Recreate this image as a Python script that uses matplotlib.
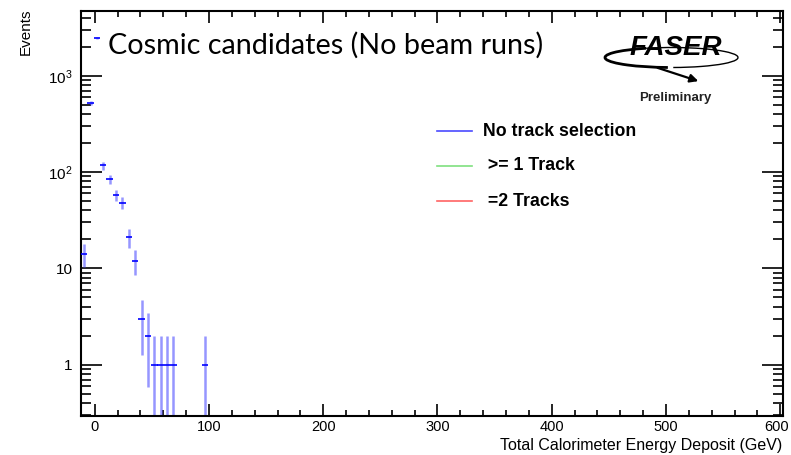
import numpy as np
import matplotlib
matplotlib.use("Agg")
import matplotlib.pyplot as plt
from matplotlib.ticker import MultipleLocator, LogLocator, FuncFormatter, NullFormatter
from matplotlib.patches import Arc

# histogram content (bin centres in GeV, entries per bin)
bin_centers = [-9.2, -3.6, 1.95, 7.5, 13.1, 18.7, 24.3, 29.8, 35.4, 41.0,
               46.6, 52.2, 57.7, 63.3, 68.9, 96.8]
counts = [14, 520, 2450, 117, 85, 58, 48, 21, 12, 3, 2, 1, 1, 1, 1, 1]
bin_width = 5.58

x_tick_values = [0, 100, 200, 300, 400, 500, 600]

legend_labels = ["No track selection", " >= 1 Track", " =2 Tracks"]
legend_colors = ["#4a4aff", "#7fe07f", "#ff6464"]

LABEL_FONT = ["Liberation Sans Narrow", "Liberation Sans"]

plt.rcParams["mathtext.fontset"] = "custom"
plt.rcParams["mathtext.rm"] = "Liberation Sans"
plt.rcParams["mathtext.it"] = "Liberation Sans"

fig = plt.figure(figsize=(7.91, 4.55), dpi=100)
ax = fig.add_axes([0.1024, 0.0868, 0.8869, 0.889])

x = np.array(bin_centers)
n = np.array(counts, dtype=float)
err = np.sqrt(n)
lo = np.maximum(n - err, 1e-3)
hi = n + err

# ROOT-style error bars: vertical sqrt(N), horizontal bin width
ax.vlines(x, lo, hi, color="#5050ff", alpha=0.6, lw=1.8, zorder=2)
ax.hlines(n, x - bin_width / 2, x + bin_width / 2, color="#0000ff", lw=1.2, zorder=3)

ax.set_yscale("log")
ax.set_xlim(-12, 602)
ax.set_ylim(0.296, 4700)

ax.set_xticks(x_tick_values)
ax.xaxis.set_minor_locator(MultipleLocator(20))
ax.yaxis.set_major_locator(LogLocator(base=10))
ax.yaxis.set_minor_locator(LogLocator(base=10, subs=np.arange(2, 10)))
ax.yaxis.set_minor_formatter(NullFormatter())


def log_fmt(v, pos):
    e = int(round(np.log10(v)))
    if e <= 1:
        return str(int(round(v)))
    return r"$10^{\mathregular{%d}}$" % e


ax.yaxis.set_major_formatter(FuncFormatter(log_fmt))

ax.tick_params(axis="both", which="both", direction="in", top=True, right=True,
               colors="black", width=1.2)
ax.tick_params(axis="x", which="major", length=8.5, labelbottom=False)
ax.tick_params(axis="x", which="minor", length=4.5)
ax.tick_params(axis="y", which="major", length=15, pad=6, labelsize=11)
ax.tick_params(axis="y", which="minor", length=7.5)
for lab in ax.get_yticklabels():
    lab.set_family(LABEL_FONT)

# x tick labels placed by hand so that "600" stays inside the canvas
for v in x_tick_values:
    dx = -3 if v == x_tick_values[-1] else 0
    ax.annotate(str(v), xy=(v, 0), xycoords=("data", "axes fraction"),
                xytext=(dx, -3), textcoords="offset points",
                ha="center", va="top", fontsize=10.5, family=LABEL_FONT)

for s in ax.spines.values():
    s.set_linewidth(1.5)
    s.set_color("black")

ax.set_xlabel("Total Calorimeter Energy Deposit (GeV)", family=LABEL_FONT, fontsize=11.5)
ax.xaxis.set_label_coords(1.0, -0.055)
ax.xaxis.label.set_horizontalalignment("right")
ax.set_ylabel("Events", family=LABEL_FONT, fontsize=11)
ax.yaxis.set_label_coords(-0.079, 1.005)
ax.yaxis.label.set_verticalalignment("center")
ax.yaxis.label.set_horizontalalignment("right")

# title-like annotation
fig.text(108 / 791, 1 - 53.5 / 455, "Cosmic candidates (No beam runs)",
         family=["Lato", "DejaVu Sans"], fontsize=20.7, ha="left", va="baseline")

# legend drawn by hand, ROOT TLegend style
for i, (lab, col) in enumerate(zip(legend_labels, legend_colors)):
    yy = 1 - (131 + 35 * i) / 455
    fig.add_artist(plt.Line2D([437 / 791, 472 / 791], [yy, yy], color=col, lw=1.2))
    fig.text(483 / 791, yy, lab, fontsize=12.8, weight="bold",
             family="Liberation Sans", ha="left", va="center")

# FASER logo approximation
logo = fig.add_axes([0, 0, 1, 1], zorder=5)
logo.set_xlim(0, 791)
logo.set_ylim(455, 0)
logo.axis("off")
logo.patch.set_alpha(0)
logo.add_patch(Arc((671.5, 57.5), 133, 20, theta1=110, theta2=200, lw=2.0, color="black"))
logo.add_patch(Arc((671.5, 57.5), 133, 20, theta1=200, theta2=80, lw=1.0, color="black"))
logo.annotate("", xy=(701, 82), xytext=(655, 67),
              arrowprops=dict(arrowstyle="-|>", color="black", lw=1.6,
                              mutation_scale=12))
logo.text(676, 48, "FASER", fontsize=20, weight="heavy", style="italic",
          family="Liberation Sans", ha="center", va="center")
logo.text(675, 98, "Preliminary", fontsize=9.5, weight="bold",
          family="Liberation Sans", ha="center", va="center", color="#222222")

fig.savefig("out.png", dpi=100)
